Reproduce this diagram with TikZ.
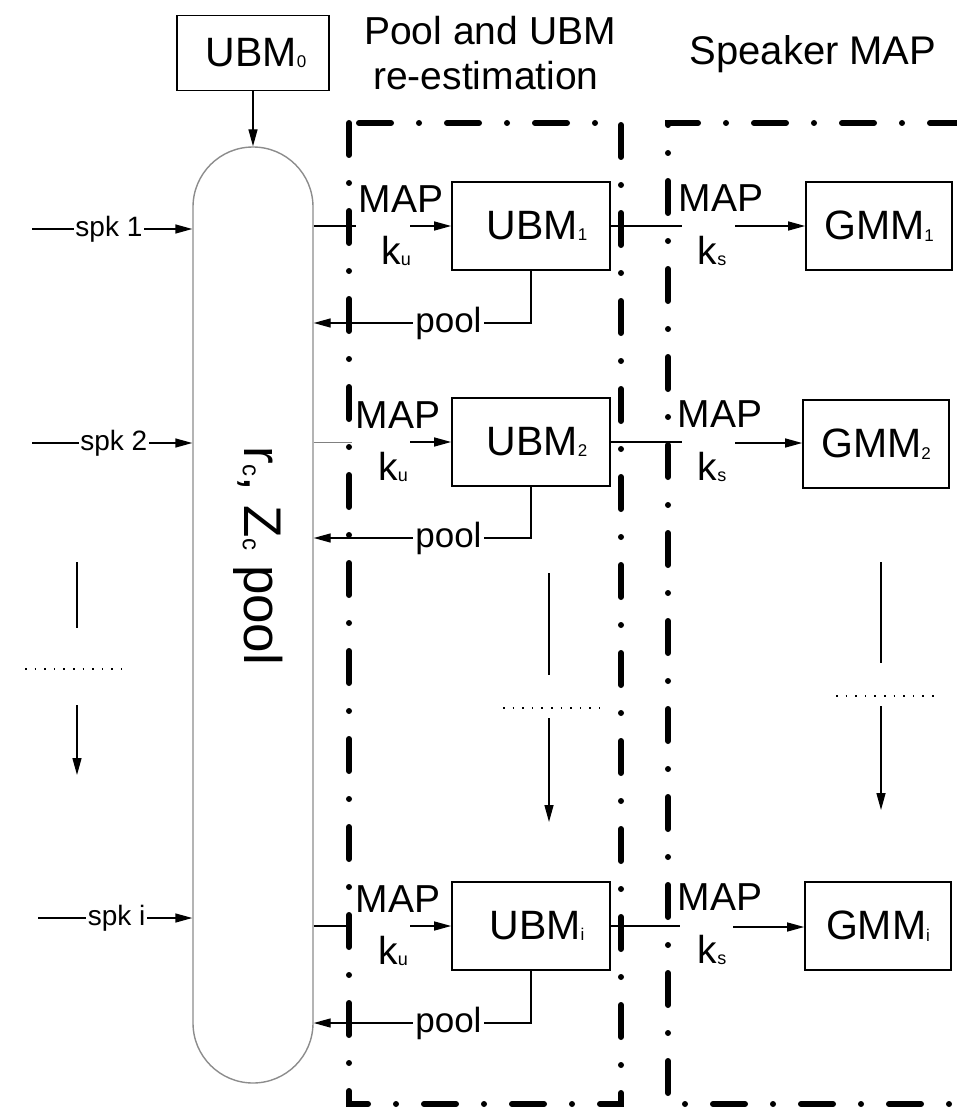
\documentclass[tikz,border=0pt]{standalone}
\usepackage{fontspec}
\setmainfont{Liberation Sans}
\usetikzlibrary{arrows.meta}
\newcommand{\fsz}[1]{\fontsize{#1}{#1}\selectfont}
\newcommand{\sbx}[2]{\raisebox{-1.5pt}{\fontsize{#1}{#1}\selectfont #2}}
\begin{document}
\begin{tikzpicture}[x=1pt,y=-1pt,
  bx/.style={draw, line width=1.7pt, inner sep=0pt, font=\fsz{41}},
  conn/.style={line width=1.4pt},
  arr/.style={conn, -{Triangle[length=17pt,width=9pt]}},
  dd/.style={line width=6pt, line cap=round, dash pattern=on 32pt off 28pt on 0pt off 28pt},
  lab/.style={font=\fsz{39}, inner sep=0pt},
  spk/.style={fill=white, font=\fsz{28}, inner sep=1.5pt},
  pl/.style={fill=white, font=\fsz{35}, inner sep=2pt},
  dots/.style={line width=1.6pt, dash pattern=on 1.6pt off 8pt}
]
\useasboundingbox (0,0) rectangle (957,1110);

% headers
\node[font=\fsz{39}, anchor=base] (h1a) at (490,45) {Pool and UBM};
\node[font=\fsz{39}, anchor=base] (h1b) at (486,90) {re-estimation};
\node[font=\fsz{40}, anchor=base] (h2) at (813,65) {Speaker MAP};

% pool capsule
\node[bx, minimum width=152pt, minimum height=75pt] (ubm0) at (253,53) {\hspace{6pt}UBM\sbx{17}{0}};
\node[draw=black!45, line width=1.4pt, minimum width=120pt, minimum height=936pt,
      rounded corners=60pt, inner sep=0pt] (pool) at (253,615) {};
\node[rotate=-90, font=\fsz{53}, inner sep=0pt] (pooltxt) at (258,556) {r\sbx{24}{c}, Z\sbx{24}{c} pool};
\draw[arr] (ubm0.south) -- (pool.north);

% UBM boxes
\node[bx, minimum width=158pt, minimum height=88pt] (ubm1) at (531,226) {\hspace{12pt}UBM\sbx{17}{1}};
\node[bx, minimum width=158pt, minimum height=88pt] (ubm2) at (531,442) {\hspace{12pt}UBM\sbx{17}{2}};
\node[bx, minimum width=158pt, minimum height=88pt] (ubmi) at (531,926) {\hspace{12pt}UBM\sbx{17}{i}};

% GMM boxes
\node[bx, minimum width=146pt, minimum height=88pt] (gmm1) at (879,226) {GMM\sbx{17}{1}};
\node[bx, minimum width=146pt, minimum height=88pt] (gmm2) at (876,444) {GMM\sbx{17}{2}};
\node[bx, minimum width=146pt, minimum height=88pt] (gmmi) at (878,926) {GMM\sbx{17}{i}};

% speaker inputs
\coordinate (s1) at (32,229);
\coordinate (s2) at (32,443);
\coordinate (si) at (38,918);
\draw[arr] (s1) -- node[spk, pos=0.48] {spk 1} (pool.west |- s1);
\draw[arr] (s2) -- node[spk, pos=0.51] {spk 2} (pool.west |- s2);
\draw[arr] (si) -- node[spk, pos=0.51] {spk i} (pool.west |- si);

% pool -> UBM (MAP k_u)
\coordinate (p1a) at (356,226); \coordinate (p1b) at (410,226);
\coordinate (p2a) at (352,442); \coordinate (p2b) at (410,442);
\coordinate (pia) at (352,926); \coordinate (pib) at (410,926);
\draw[conn] (pool.east |- ubm1.west) -- (p1a);
\draw[arr] (p1b) -- (ubm1.west);
\draw[conn, black!50, line width=0.9pt] (pool.east |- ubm2.west) -- (p2a);
\draw[arr] (p2b) -- (ubm2.west);
\draw[conn] (pool.east |- ubmi.west) -- (pia);
\draw[arr] (pib) -- (ubmi.west);
\node[lab] (map1) at (401,199) {MAP};
\node[lab] (ku1) at (396,251) {k\sbx{18}{u}};
\node[lab] (map2) at (398,415) {MAP};
\node[lab] (ku2) at (393,467) {k\sbx{18}{u}};
\node[lab] (mapi) at (398,899) {MAP};
\node[lab] (kui) at (393,951) {k\sbx{18}{u}};

% UBM -> GMM (MAP k_s)
\coordinate (g1a) at (682,226); \coordinate (g1b) at (735,226);
\coordinate (g2a) at (682,443); \coordinate (g2b) at (735,443);
\coordinate (gia) at (680,927); \coordinate (gib) at (733,927);
\draw[conn] (ubm1.east) -- (g1a);
\draw[arr] (g1b) -- (gmm1.west);
\draw[conn] (ubm2.east) -- (ubm2.east -| g2a);
\draw[arr] (g2b) -- (gmm2.west |- g2b);
\draw[conn] (ubmi.east) -- (ubmi.east -| gia);
\draw[arr] (gib) -- (gmmi.west |- gib);
\node[lab] (ms1) at (721,198) {MAP};
\node[lab] (ks1) at (712,251) {k\sbx{18}{s}};
\node[lab] (ms2) at (720,414) {MAP};
\node[lab] (ks2) at (712,467) {k\sbx{18}{s}};
\node[lab] (msi) at (720,897) {MAP};
\node[lab] (ksi) at (712,950) {k\sbx{18}{s}};

% pool feedback
\coordinate (pr1) at (0,323);
\coordinate (pr2) at (0,538);
\coordinate (pri) at (0,1023);
\draw[arr] (ubm1.south) |- node[pl, pos=0.69] {pool} (pool.east |- pr1);
\draw[arr] (ubm2.south) |- node[pl, pos=0.69] {pool} (pool.east |- pr2);
\draw[arr] (ubmi.south) |- node[pl, pos=0.69] {pool} (pool.east |- pri);

% ellipsis columns
\coordinate (la) at (77,562); \coordinate (lb) at (77,628);
\coordinate (lc) at (77,705); \coordinate (ld) at (77,775);
\coordinate (le) at (25,669); \coordinate (lf) at (122,669);
\draw[conn] (la) -- (lb);
\draw[arr] (lc) -- (ld);
\draw[dots] (le) -- (lf);

\coordinate (ma) at (549,573); \coordinate (mb) at (549,675);
\coordinate (mc) at (549,718); \coordinate (md) at (549,822);
\coordinate (me) at (503,708); \coordinate (mf) at (600,708);
\draw[conn] (ma) -- (mb);
\draw[arr] (mc) -- (md);
\draw[dots] (me) -- (mf);

\coordinate (ra) at (881,562); \coordinate (rb) at (881,663);
\coordinate (rc) at (881,706); \coordinate (rd) at (881,810);
\coordinate (re) at (836,696); \coordinate (rf) at (934,696);
\draw[conn] (ra) -- (rb);
\draw[arr] (rc) -- (rd);
\draw[dots] (re) -- (rf);

% dash-dot group frames
\coordinate (f1a) at (349,123); \coordinate (f1b) at (621,1104);
\draw[dd] (f1a) rectangle (f1b);
\coordinate (f2a) at (962,123); \coordinate (f2b) at (668,123);
\coordinate (f2c) at (668,1104); \coordinate (f2d) at (962,1104);
\begin{scope}
\clip (0,0) rectangle (957,1110);
\draw[dd] (f2a) -- (f2b) -- (f2c) -- (f2d);
\end{scope}
\end{tikzpicture}
\end{document}
